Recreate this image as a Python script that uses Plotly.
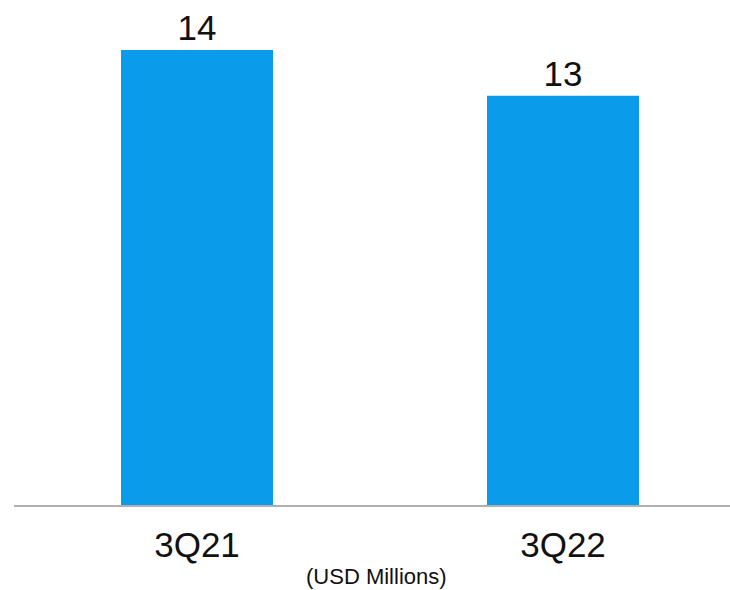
import plotly.graph_objects as go

categories = ["3Q21", "3Q22"]
values = [14.2, 12.77]
labels = ["14", "13"]

W, H = 730, 590
left, right_edge = 14, 730
top, bottom = 50, 505
unit_px = 366.0
x0 = -0.5
x1 = x0 + (right_edge - left) / unit_px

fig = go.Figure()
fig.add_trace(go.Bar(
    x=[0, 1], y=values, text=labels,
    textposition="outside", cliponaxis=False,
    textfont=dict(family="Liberation Sans", size=35, color="#111111"),
    marker=dict(color="#0A9BEA", line=dict(width=0)),
    width=152 / unit_px,
))
fig.update_layout(
    width=W, height=H,
    margin=dict(l=left, r=W - right_edge, t=top, b=H - bottom),
    plot_bgcolor="white", paper_bgcolor="white",
    showlegend=False,
    xaxis=dict(
        range=[x0, x1], tickmode="array", tickvals=[0, 1], ticktext=categories,
        showline=True, linecolor="#B0B0B0", linewidth=2,
        showgrid=False, zeroline=False, ticks="",
        tickfont=dict(family="Liberation Sans", size=35, color="#111111"),
        ticklabelstandoff=8,
    ),
    yaxis=dict(range=[0, 14.2], visible=False),
)
fig.add_annotation(
    text="(USD Millions)",
    x=(376 - left) / (right_edge - left), y=-(576 - bottom) / (bottom - top),
    xref="paper", yref="paper", xanchor="center", yanchor="middle",
    showarrow=False, font=dict(family="Liberation Sans", size=22, color="#111111"),
)
fig.write_html("out.html")
